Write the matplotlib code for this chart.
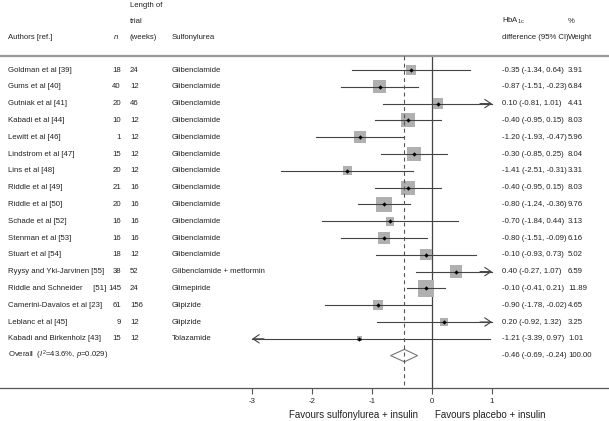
import numpy as np
import matplotlib
matplotlib.use('Agg')
import matplotlib.pyplot as plt
from matplotlib.patches import Polygon

plt.rcParams['font.family'] = ['Liberation Sans', 'DejaVu Sans']
plt.rcParams['mathtext.fontset'] = 'custom'
plt.rcParams['mathtext.rm'] = 'Liberation Sans'
plt.rcParams['mathtext.it'] = 'Liberation Sans:italic'
plt.rcParams['axes.unicode_minus'] = False

## study data
authors = ['Goldman et al [39]', 'Gums et al [40]', 'Gutniak et al [41]', 'Kabadi et al [44]',
           'Lewitt et al [46]', 'Lindstrom et al [47]', 'Lins et al [48]', 'Riddle et al [49]',
           'Riddle et al [50]', 'Schade et al [52]', 'Stenman et al [53]', 'Stuart et al [54]',
           'Ryysy and Yki-Jarvinen [55]', 'Riddle and Schneider     [51]', 'Camerini-Davalos et al [23]',
           'Leblanc et al [45]', 'Kabadi and Birkenholz [43]']
n_pat = [18, 40, 20, 10, 1, 15, 20, 21, 20, 16, 16, 18, 38, 145, 61, 9, 15]
weeks = [24, 12, 46, 12, 12, 12, 12, 16, 16, 16, 16, 12, 52, 24, 156, 12, 12]
drugs = ['Glibenclamide'] * 12 + ['Glibenclamide + metformin', 'Glimepiride',
                                  'Glipizide', 'Glipizide', 'Tolazamide']
est = [-0.35, -0.87, 0.10, -0.40, -1.20, -0.30, -1.41, -0.40, -0.80, -0.70, -0.80, -0.10,
       0.40, -0.10, -0.90, 0.20, -1.21]
lo = [-1.34, -1.51, -0.81, -0.95, -1.93, -0.85, -2.51, -0.95, -1.24, -1.84, -1.51, -0.93,
      -0.27, -0.41, -1.78, -0.92, -3.39]
hi = [0.64, -0.23, 1.01, 0.15, -0.47, 0.25, -0.31, 0.15, -0.36, 0.44, -0.09, 0.73,
      1.07, 0.21, -0.02, 1.32, 0.97]
weight = [3.91, 6.84, 4.41, 8.03, 5.96, 8.04, 3.31, 8.03, 9.76, 3.13, 6.16, 5.02,
          6.59, 11.89, 4.65, 3.25, 1.01]
overall = (-0.46, -0.69, -0.24)
overall_label = 'Overall  ($\\mathit{I}^{2}$=43.6%, $\\mathit{p}$=0.029)'
xticks = [-3, -2, -1, 0, 1]
clip_lo, clip_hi = -3, 1

W, H = 609, 421
fig = plt.figure(figsize=(W / 100, H / 100), dpi=100)
ax = fig.add_axes([0, 0, 1, 1])

# pixel layout -> data limits
x0_px, x_unit = 432, 60
row0_px, row_h = 70, 16.8
ax.set_xlim(-x0_px / x_unit, (W - x0_px) / x_unit)
ax.set_ylim((H - row0_px) / row_h, -row0_px / row_h)

nrow = len(authors)
rows = np.arange(nrow)
ov_row = nrow
axis_row = (388 - row0_px) / row_h
head_row = (56 - row0_px) / row_h

fs = 5.6
tc = '#222222'
tr = ax.get_yaxis_transform()
def col(px):
    return px / W

# header
ax.text(col(130), (5 - row0_px) / row_h, 'Length of', fontsize=fs, color=tc, va='center', transform=tr)
ax.text(col(130), (21 - row0_px) / row_h, 'trial', fontsize=fs, color=tc, va='center', transform=tr)
hr = (37 - row0_px) / row_h
ax.text(col(8), hr, 'Authors [ref.]', fontsize=fs, color=tc, va='center', transform=tr)
ax.text(col(113), hr, '$\\mathit{n}$', fontsize=fs, color=tc, va='center', transform=tr)
ax.text(col(130), hr, '(weeks)', fontsize=fs, color=tc, va='center', transform=tr)
ax.text(col(172), hr, 'Sulfonylurea', fontsize=fs, color=tc, va='center', transform=tr)
ax.text(col(502), (21 - row0_px) / row_h, 'HbA$_{\\mathregular{1c}}$', fontsize=fs, color=tc, va='center', transform=tr)
ax.text(col(568), (21 - row0_px) / row_h, '%', fontsize=fs, color=tc, va='center', transform=tr)
ax.text(col(502), hr, 'difference (95% CI)', fontsize=fs, color=tc, va='center', transform=tr)
ax.text(col(568), hr, 'Weight', fontsize=fs, color=tc, va='center', transform=tr)
ax.axhline(head_row, color='#999999', lw=1.6)

# study rows
for i in range(nrow):
    ax.text(col(8), i, authors[i], fontsize=fs, color=tc, va='center', transform=tr)
    ax.text(col(121), i, str(n_pat[i]), fontsize=fs, color=tc, va='center', ha='right', transform=tr)
    ax.text(col(130), i, str(weeks[i]), fontsize=fs, color=tc, va='center', transform=tr)
    ax.text(col(172), i, drugs[i], fontsize=fs, color=tc, va='center', transform=tr)
    ax.text(col(502), i, '%.2f (%.2f, %.2f)' % (est[i], lo[i], hi[i]), fontsize=fs, color=tc, va='center', transform=tr)
    ax.text(col(568), i, '%.2f' % weight[i], fontsize=fs, color=tc, va='center', transform=tr)

    a = max(lo[i], clip_lo)
    b = min(hi[i], clip_hi)
    ax.plot([a, b], [i, i], color='#444444', lw=0.8, zorder=3)
    if hi[i] > clip_hi:
        ax.annotate('', xy=(clip_hi, i), xytext=(clip_hi - 0.2, i),
                    arrowprops=dict(arrowstyle='->,head_length=0.45,head_width=0.3',
                                    color='#444444', lw=0.8, shrinkA=0, shrinkB=0), zorder=3)
    if lo[i] < clip_lo:
        ax.annotate('', xy=(clip_lo, i), xytext=(clip_lo + 0.2, i),
                    arrowprops=dict(arrowstyle='->,head_length=0.45,head_width=0.3',
                                    color='#444444', lw=0.8, shrinkA=0, shrinkB=0), zorder=3)

ax.scatter(est, rows, s=np.array(weight) * 12.5, marker='s', color='#b0b0b0', lw=0, zorder=2)
ax.scatter(est, rows, s=5, marker='D', color='black', lw=0, zorder=4)

# overall
ax.text(col(8), ov_row, overall_label, fontsize=fs, color=tc, va='center', transform=tr)
ax.text(col(502), ov_row, '%.2f (%.2f, %.2f)' % overall, fontsize=fs, color=tc, va='center', transform=tr)
ax.text(col(568), ov_row, '100.00', fontsize=fs, color=tc, va='center', transform=tr)
dh = 0.37
diamond = Polygon([(overall[1], ov_row), (overall[0], ov_row - dh), (overall[2], ov_row),
                   (overall[0], ov_row + dh)], closed=True, facecolor='white',
                  edgecolor='#777777', lw=0.8, zorder=3)
ax.add_patch(diamond)

ax.plot([0, 0], [head_row, axis_row], color='#444444', lw=0.9, zorder=1)
ax.plot([overall[0], overall[0]], [head_row, axis_row], color='#555555', lw=0.8,
        ls=(0, (3.5, 3)), zorder=5)

# x axis
for s in ['top', 'left', 'right']:
    ax.spines[s].set_visible(False)
ax.spines['bottom'].set_position(('data', axis_row))
ax.spines['bottom'].set_color('#555555')
ax.spines['bottom'].set_linewidth(0.9)
ax.set_xticks(xticks)
ax.set_xticklabels([str(t) for t in xticks])
ax.tick_params(axis='x', direction='out', length=4, width=0.8, color='#555555',
               labelsize=fs, labelcolor=tc, pad=3)
ax.set_yticks([])

fav_row = (415 - row0_px) / row_h
ax.text(col(418), fav_row, 'Favours sulfonylurea + insulin', fontsize=7.0, color=tc,
        va='center', ha='right', transform=tr)
ax.text(col(435), fav_row, 'Favours placebo + insulin', fontsize=7.0, color=tc,
        va='center', ha='left', transform=tr)

fig.savefig('out.png', dpi=100)
